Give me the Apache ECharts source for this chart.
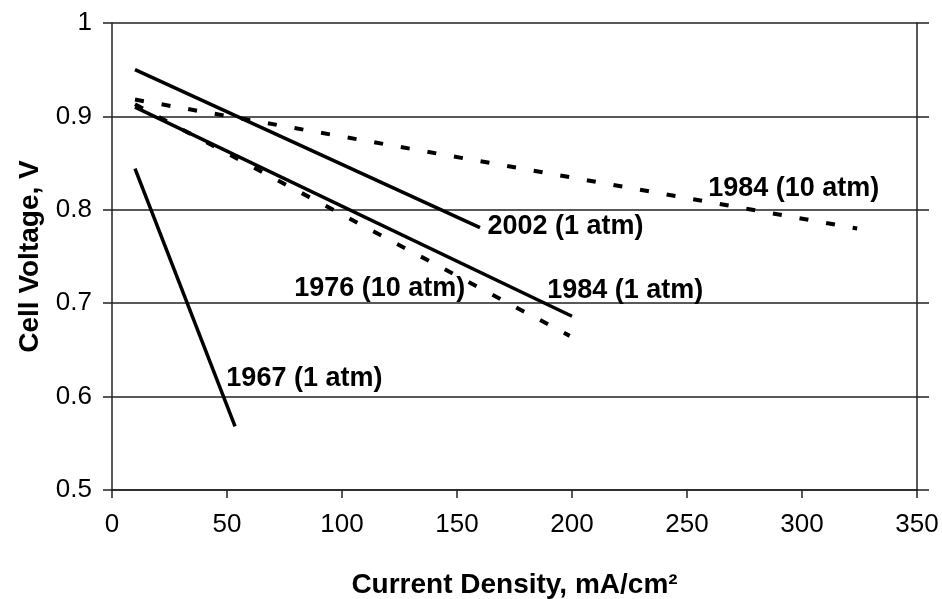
<head>
    <meta charset="utf-8">
    <title>Cell Voltage vs Current Density</title>
    <script src="https://cdn.jsdelivr.net/npm/echarts@6.0.0/dist/echarts.min.js"></script>
</head>

<body style="margin:0">
    <div id="main" style="width: 942px; height: 599px;"></div>

    <script type="text/javascript">

        // current density (mA/cm2) and cell voltage (V), endpoints
        const cd1967 = [10, 53.5]
        const v1967 = [0.844, 0.568]
        const cd2002 = [10, 160]
        const v2002 = [0.950, 0.781]
        const cd1984a = [10, 200]
        const v1984a = [0.910, 0.686]
        const cd1976 = [10, 199]
        const v1976 = [0.913, 0.665]
        const cd1984b = [10, 324]
        const v1984b = [0.918, 0.780]

        const xTicks = [0, 50, 100, 150, 200, 250, 300, 350]
        const yTicks = [0.5, 0.6, 0.7, 0.8, 0.9, 1]

        // series labels, anchored at the left edge of the text (data coords)
        const labelText = ['1967 (1 atm)', '2002 (1 atm)', '1984 (1 atm)', '1976 (10 atm)', '1984 (10 atm)']
        const labelCd = [49.5, 163, 189, 79, 259]
        const labelV = [0.619, 0.782, 0.714, 0.716, 0.823]

        const pairs = (xs, ys) => xs.map((x, i) => [x, ys[i]])

        var myChart = echarts.init(document.getElementById('main'));

        const font = 'Liberation Sans, Arial, sans-serif'

        function mark(i) {
            return {
                symbol: 'circle',
                symbolSize: 1,
                silent: true,
                itemStyle: { color: 'rgba(0,0,0,0)' },
                label: {
                    show: true,
                    position: 'right',
                    distance: 0,
                    formatter: labelText[i],
                    fontFamily: font,
                    fontWeight: 'bold',
                    fontSize: 27,
                    color: '#000'
                },
                data: [{ coord: [labelCd[i], labelV[i]] }]
            }
        }

        function line(name, xs, ys, dashed, i) {
            return {
                name,
                type: 'line',
                data: pairs(xs, ys),
                showSymbol: false,
                symbol: 'none',
                lineStyle: {
                    color: '#000',
                    width: dashed ? 4 : 3.5,
                    type: dashed ? [9, 18] : 'solid',
                    cap: 'butt'
                },
                markPoint: mark(i),
                animation: false
            }
        }

        option = {
            backgroundColor: '#fff',
            grid: {
                left: 112,
                right: 25,
                top: 23,
                bottom: 109,
                outerBoundsMode: 'none'
            },
            xAxis: {
                type: 'value',
                min: xTicks[0],
                max: xTicks[xTicks.length - 1],
                interval: 50,
                name: 'Current Density, mA/cm²',
                nameLocation: 'middle',
                nameGap: 81,
                nameTextStyle: {
                    fontFamily: font,
                    fontWeight: 'bold',
                    fontSize: 28,
                    color: '#000'
                },
                axisLine: { lineStyle: { color: '#222', width: 1.5 } },
                axisTick: { show: true, inside: false, length: 8, lineStyle: { color: '#222', width: 1.5 } },
                axisLabel: {
                    margin: 22,
                    fontFamily: font,
                    fontSize: 26,
                    color: '#000'
                },
                splitLine: { show: false }
            },
            yAxis: [
                {
                    type: 'value',
                    min: yTicks[0],
                    max: yTicks[yTicks.length - 1],
                    interval: 0.1,
                    name: 'Cell Voltage, V',
                    nameLocation: 'middle',
                    nameGap: 68,
                    nameTextStyle: {
                        fontFamily: font,
                        fontWeight: 'bold',
                        fontSize: 28,
                        color: '#000'
                    },
                    axisLine: { show: true, lineStyle: { color: '#222', width: 1.5 } },
                    axisTick: { show: true, inside: false, length: 9, lineStyle: { color: '#222', width: 1.5 } },
                    axisLabel: {
                        margin: 20,
                        fontFamily: font,
                        fontSize: 26,
                        color: '#000',
                        formatter: v => String(Math.round(v * 10) / 10)
                    },
                    splitLine: { show: true, lineStyle: { color: '#222', width: 1.5 } }
                },
                {
                    type: 'value',
                    position: 'right',
                    min: yTicks[0],
                    max: yTicks[yTicks.length - 1],
                    interval: 0.1,
                    axisLine: { show: true, lineStyle: { color: '#222', width: 1.5 } },
                    axisTick: { show: true, inside: false, length: 12, lineStyle: { color: '#222', width: 1.5 } },
                    axisLabel: { show: false },
                    splitLine: { show: false }
                }
            ],
            series: [
                line('1967 (1 atm)', cd1967, v1967, false, 0),
                line('2002 (1 atm)', cd2002, v2002, false, 1),
                line('1984 (1 atm)', cd1984a, v1984a, false, 2),
                line('1976 (10 atm)', cd1976, v1976, true, 3),
                line('1984 (10 atm)', cd1984b, v1984b, true, 4)
            ]
        };

        myChart.setOption(option);
    </script>
</body>
